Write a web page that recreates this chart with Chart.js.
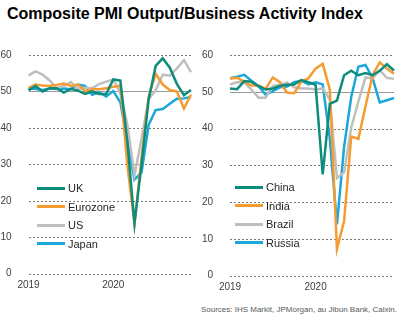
<!DOCTYPE html>
<html>
<head>
<meta charset="utf-8">
<script src="https://cdn.jsdelivr.net/npm/chart.js@4"></script>
<style>
  body { margin: 0; background: #fff; font-family: "Liberation Sans", Arial, sans-serif; }
  #wrap { position: relative; width: 407px; height: 322px; overflow: hidden; }
  #title { position: absolute; left: 7px; top: 5px; font-size: 16px; font-weight: bold; color: #000; white-space: nowrap; }
  #src { position: absolute; right: 10px; top: 305px; font-size: 8px; color: #595959; white-space: nowrap; }
  .panel { position: absolute; }
  .legend { position: absolute; font-size: 11px; color: #262626; }
  .legend div { height: 18.5px; line-height: 18.5px; white-space: nowrap; }
  .legend span { display: inline-block; width: 28px; height: 3px; vertical-align: middle; margin-right: 3px; position: relative; top: -1px; }
</style>
</head>
<body>
<div id="wrap">
  <div id="title">Composite PMI Output/Business Activity Index</div>
  <div class="panel" style="left:0;top:40px"><canvas id="left" width="200" height="255"></canvas></div>
  <div class="panel" style="left:200px;top:40px"><canvas id="right" width="207" height="257"></canvas></div>
  <div class="legend" id="legLeft" style="left:37px;top:179px"></div>
  <div class="legend" id="legRight" style="left:235px;top:178px"></div>
  <div id="src">Sources: IHS Markit, JPMorgan, au Jibun Bank, Caixin.</div>
</div>
<script>
// monthly, Jan 2019 - Dec 2020
const months = ['2019-01','2019-02','2019-03','2019-04','2019-05','2019-06','2019-07','2019-08','2019-09','2019-10','2019-11','2019-12',
                '2020-01','2020-02','2020-03','2020-04','2020-05','2020-06','2020-07','2020-08','2020-09','2020-10','2020-11','2020-12'];
const yTicks = [0, 10, 20, 30, 40, 50, 60];

const uk       = [50.3, 51.5, 50.0, 50.9, 50.9, 49.7, 50.7, 50.2, 49.3, 50.0, 49.3, 49.3, 53.3, 53.0, 36.0, 13.8, 30.0, 47.7, 57.0, 59.1, 56.5, 52.1, 49.0, 50.4];
const eurozone = [51.0, 51.9, 51.6, 51.5, 51.8, 52.2, 51.5, 51.9, 50.1, 50.6, 50.6, 50.9, 51.3, 51.6, 29.7, 13.6, 31.9, 48.5, 54.9, 51.9, 50.4, 50.0, 45.3, 49.1];
const us       = [54.4, 55.5, 54.6, 53.0, 50.9, 51.5, 52.6, 50.7, 51.0, 50.9, 52.0, 52.7, 53.3, 49.6, 40.9, 27.0, 37.0, 47.9, 50.3, 54.6, 54.3, 56.3, 58.6, 55.3];
const japan    = [50.9, 50.7, 50.4, 50.8, 50.7, 50.8, 50.6, 51.9, 51.5, 49.1, 49.8, 48.6, 50.1, 47.0, 36.2, 25.8, 27.8, 40.8, 44.9, 45.2, 46.6, 48.0, 48.1, 48.5];

const china    = [50.9, 50.7, 52.9, 52.7, 51.5, 50.6, 50.9, 51.6, 51.9, 52.0, 53.2, 52.6, 51.9, 27.5, 46.7, 47.6, 54.5, 55.7, 54.5, 55.1, 54.5, 55.7, 57.5, 55.8];
const india    = [53.6, 53.8, 52.7, 51.7, 51.7, 50.8, 53.9, 52.6, 49.8, 49.6, 52.7, 53.7, 56.3, 57.6, 50.6,  7.2, 14.8, 37.8, 37.2, 46.0, 54.6, 58.0, 56.3, 54.9];
const brazil   = [52.0, 52.6, 52.6, 50.6, 48.4, 48.4, 51.6, 51.9, 52.5, 51.2, 50.9, 50.9, 50.6, 50.9, 47.9, 26.5, 28.1, 40.2, 47.3, 53.9, 53.6, 55.9, 53.8, 53.5];
const russia   = [53.7, 54.1, 54.6, 53.0, 51.5, 49.2, 50.2, 51.2, 51.4, 52.6, 53.0, 52.0, 52.6, 52.0, 37.2, 13.9, 35.0, 48.6, 56.8, 57.3, 53.7, 47.1, 47.7, 48.3];

const leftNames  = ['UK', 'Eurozone', 'US', 'Japan'];
const rightNames = ['China', 'India', 'Brazil', 'Russia'];
const colors = ['#0e8c7b', '#f59b2f', '#bfbfbf', '#1ba7da'];

const font = { family: '"Liberation Sans", Arial, sans-serif', size: 10 };

// dotted grid, solid line at 50
const gridLines = {
  id: 'gridLines',
  beforeDatasetsDraw(chart) {
    const ctx = chart.ctx;
    const { left, right } = chart.chartArea;
    ctx.save();
    ctx.lineWidth = 1;
    yTicks.forEach(v => {
      const y = Math.round(chart.scales.y.getPixelForValue(v)) + 0.5;
      ctx.strokeStyle = v === 50 ? '#999999' : '#7a7a7a';
      ctx.setLineDash(v === 50 ? [] : [2, 2]);
      ctx.beginPath();
      ctx.moveTo(Math.round(left), y);
      ctx.lineTo(Math.round(right), y);
      ctx.stroke();
    });
    ctx.restore();
  }
};

function makePanel(id, names, series, pad, yWidth) {
  new Chart(document.getElementById(id), {
    type: 'line',
    data: {
      labels: months,
      datasets: series.map((s, i) => ({
        label: names[i],
        data: s,
        borderColor: colors[i],
        borderWidth: 2.5,
        pointRadius: 0,
        tension: 0,
        fill: false
      }))
    },
    options: {
      responsive: false,
      animation: false,
      devicePixelRatio: 1,
      layout: { padding: pad },
      plugins: { legend: { display: false }, tooltip: { enabled: false } },
      scales: {
        x: {
          offset: false,
          grid: { display: false, drawTicks: false },
          border: { display: false },
          afterFit: s => { s.height = pad.xh },
          ticks: {
            autoSkip: false, maxRotation: 0, padding: 6,
            color: '#404040', font: font,
            callback: (v, i) => months[i].endsWith('-01') ? months[i].slice(0, 4) : ''
          }
        },
        y: {
          min: 0, max: 60,
          afterFit: s => { s.width = yWidth },
          ticks: { stepSize: 10, padding: 9, color: '#404040', font: font },
          grid: { display: false },
          border: { display: false }
        }
      }
    },
    plugins: [gridLines]
  });
}

makePanel('left',  leftNames,  [uk, eurozone, us, japan],      { top: 8, right: 9, left: 0, bottom: 0, xh: 21.3 }, 28.5);
makePanel('right', rightNames, [china, india, brazil, russia], { top: 11, right: 13, left: 0, bottom: 0, xh: 21.5 }, 30);

function makeLegend(id, names) {
  const el = document.getElementById(id);
  names.forEach((n, i) => {
    const row = document.createElement('div');
    row.innerHTML = '<span style="background:' + colors[i] + '"></span>' + n;
    el.appendChild(row);
  });
}
makeLegend('legLeft', leftNames);
makeLegend('legRight', rightNames);
</script>
</body>
</html>
